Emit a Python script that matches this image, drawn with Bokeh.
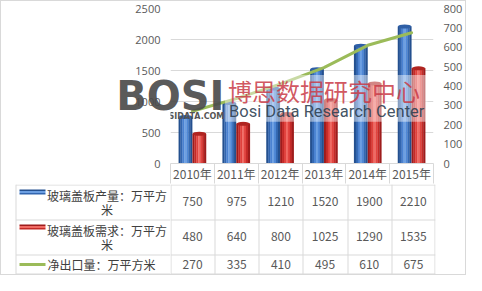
from bokeh.plotting import figure
from bokeh.models import (Range1d, LinearAxis, ColumnDataSource, Label,
                          BoxAnnotation, FixedTicker)
from bokeh.layouts import column, row
from bokeh.embed import file_html
from bokeh.resources import INLINE
from bokeh.core.properties import value
from bokeh.transform import dodge

# ---------------- data ----------------
years = ["2010年", "2011年", "2012年", "2013年", "2014年", "2015年"]
production = [750, 975, 1210, 1520, 1900, 2210]
demand = [480, 640, 800, 1025, 1290, 1535]
net_export = [270, 335, 410, 495, 610, 675]
series_names = ["玻璃盖板产量：万平方米", "玻璃盖板需求：万平方米", "净出口量：万平方米"]
left_ticks = [0, 500, 1000, 1500, 2000, 2500]
right_ticks = [0, 100, 200, 300, 400, 500, 600, 700, 800]

# ---------------- layout constants ----------------
W = 464
HA = 183
HB = 90
FL, FR, FT, FB = 169, 30, 7, 20
FW = W - FL - FR
NC = len(years)
cw = FW / float(NC)
TXT = "#595959"
GRID = "#d9d9d9"
BAR_W = 0.31
CJK = "Noto Sans CJK SC"

xc = [i + 0.5 for i in range(NC)]  # category centres
src = ColumnDataSource(dict(xc=xc, prod=production, dem=demand, net=net_export))

p = figure(x_range=Range1d(0, NC), y_range=Range1d(0, 2500), width=W, height=HA,
           min_border_left=FL, min_border_right=FR, min_border_top=FT, min_border_bottom=FB,
           x_axis_location=None, output_backend="svg", toolbar_location=None)
p.extra_y_ranges = {"r": Range1d(0, 800)}
p.xgrid.visible = False
p.outline_line_color = None
p.ygrid.grid_line_color = GRID
p.ygrid.ticker = FixedTicker(ticks=left_ticks)

def style_axis(ax, standoff):
    ax.axis_line_color = None
    ax.major_tick_line_color = None
    ax.minor_tick_line_color = None
    ax.major_tick_out = 0
    ax.minor_tick_out = 0
    ax.major_label_text_font = "Open Sans"
    ax.major_label_text_font_size = "11px"
    ax.major_label_text_color = TXT
    ax.major_label_standoff = standoff

p.yaxis.ticker = FixedTicker(ticks=left_ticks)
lax = p.yaxis[0]
style_axis(lax, 10)
# watermark logo, carried by the left axis so that it may overlap the tick labels
lax.axis_label = "\nBOSI"
lax.axis_label_orientation = "horizontal"
lax.axis_label_text_font = "DejaVu Sans"
lax.axis_label_text_font_style = "bold"
lax.axis_label_text_font_size = "40px"
lax.axis_label_text_line_height = 0.45
lax.axis_label_text_color = "#4a4a4a"
lax.axis_label_text_alpha = 0.92
lax.axis_label_standoff = -92

rax = LinearAxis(y_range_name="r", ticker=FixedTicker(ticks=right_ticks))
style_axis(rax, 10)
p.add_layout(rax, "right")

# header row of the data table = category axis
hdr = LinearAxis(ticker=FixedTicker(ticks=xc, minor_ticks=list(range(NC + 1))),
                 major_label_overrides={c: y for c, y in zip(xc, years)})
hdr.axis_line_color = GRID
hdr.major_tick_line_color = None
hdr.major_tick_out = 0
hdr.major_tick_in = 0
hdr.minor_tick_line_color = GRID
hdr.minor_tick_out = 20
hdr.minor_tick_in = 0
hdr.major_label_standoff = -19
hdr.major_label_text_font = CJK
hdr.major_label_text_font_size = "12px"
hdr.major_label_text_color = TXT
p.add_layout(hdr, "below")

blue_cols = ["#24508f", "#3266b0", "#4a82d2", "#6c9fe2", "#4f88d6", "#3469b3", "#24508f"]
red_cols = ["#9e1c1c", "#c42a27", "#e0413c", "#f06a63", "#e2443f", "#c52b28", "#9e1c1c"]

def cylinder(center, field, cols, cap):
    n = len(cols)
    sw = BAR_W / n
    for k, c in enumerate(cols):
        off = center - BAR_W / 2 + sw * (k + 0.5)
        p.vbar(x=dodge("xc", off), top=field, width=sw * 1.12,
               source=src, fill_color=c, line_color=None)
    p.ellipse(x=dodge("xc", center), y=field, width=BAR_W, height=4,
              height_units="screen", source=src, fill_color=cap, line_color=None)

cylinder(-0.158, "prod", blue_cols, "#2f5fa6")
cylinder(0.158, "dem", red_cols, "#b02420")

p.line(x="xc", y="net", source=src, y_range_name="r", line_width=3,
       line_color="#9bbb59", line_cap="round", line_join="round")

# ---------------- watermark ----------------
def sx(px):
    return (px - 178) / cw
def sy(py):
    return (172 - py) / 156.0 * 2500

p.add_layout(BoxAnnotation(left=sx(233), right=sx(437), bottom=sy(130), top=sy(83),
                           fill_color="white", fill_alpha=0.45, line_color=None))
p.add_layout(Label(x=sx(163), y=sy(125), text="BOSIDATA.COM", text_font="DejaVu Sans",
                   text_font_style="bold", text_font_size="8px", text_color="#555555",
                   text_baseline="middle", text_align="left"))
p.add_layout(Label(x=sx(236), y=sy(99), text="博思数据研究中心", text_font=CJK,
                   text_font_size="24px", text_color="#c93a46", text_alpha=0.85,
                   text_baseline="middle", text_align="left"))
p.add_layout(Label(x=sx(237), y=sy(120), text="Bosi Data Research Center",
                   text_font="Roboto", text_font_size="16.5px",
                   text_color="#2c3e50", text_alpha=0.9,
                   text_baseline="middle", text_align="left"))

# ---------------- data table: rows ----------------
font = value(CJK)
rows_y = [0.5, 35.5, 70.5, 89.5]

tl = figure(x_range=Range1d(0, FL), y_range=Range1d(HB, 0), width=FL, height=HB,
            min_border=0, x_axis_location=None, y_axis_location=None,
            output_backend="svg", toolbar_location=None)
tr = figure(x_range=Range1d(0, FW), y_range=Range1d(HB, 0), width=FW + FR, height=HB,
            min_border_left=0, min_border_right=FR, min_border_top=0, min_border_bottom=0,
            x_axis_location=None, y_axis_location=None,
            output_backend="svg", toolbar_location=None)
for f in (tl, tr):
    f.grid.visible = False
    f.outline_line_color = None

LX = 14.5
tl.segment(x0=[LX] * 4, y0=rows_y, x1=[FL] * 4, y1=rows_y, line_color=GRID, line_width=1)
tl.segment(x0=[LX], y0=[0], x1=[LX], y1=[rows_y[-1]], line_color=GRID, line_width=1)
tr.segment(x0=[0] * 4, y0=rows_y, x1=[FW] * 4, y1=rows_y, line_color=GRID, line_width=1)
vx = [0.5] + [round(i * cw) + 0.5 for i in range(1, NC)] + [FW - 0.5]
tr.segment(x0=vx, y0=[0] * len(vx), x1=vx, y1=[rows_y[-1]] * len(vx), line_color=GRID, line_width=1)

centers = [c * cw for c in xc]
for vals, yc in ((production, 17), (demand, 52), (net_export, 80)):
    tr.text(x=centers, y=[yc] * NC, text=[str(v) for v in vals], text_font=font,
            text_font_size="12px", text_color=TXT, text_align="center", text_baseline="middle")

LBL = "#404040"
tl.text(x=[105.5, 105.5], y=[11, 25], text=[series_names[0][:-1], series_names[0][-1]],
        text_font=font, text_font_size="12px", text_color=LBL,
        text_align="center", text_baseline="middle")
tl.text(x=[105.5, 105.5], y=[46, 60], text=[series_names[1][:-1], series_names[1][-1]],
        text_font=font, text_font_size="12px", text_color=LBL,
        text_align="center", text_baseline="middle")
tl.text(x=[46], y=[80], text=[series_names[2]], text_font=font, text_font_size="12px",
        text_color=LBL, text_align="left", text_baseline="middle")

def key(y0, cols):
    tl.quad(left=[18], right=[44], top=[y0], bottom=[y0 + 1.5], fill_color=cols[0], line_color=None)
    tl.quad(left=[18], right=[44], top=[y0 + 1.5], bottom=[y0 + 3.5], fill_color=cols[3], line_color=None)
    tl.quad(left=[18], right=[44], top=[y0 + 3.5], bottom=[y0 + 5], fill_color=cols[1], line_color=None)
key(5, blue_cols)
key(40, red_cols)
tl.segment(x0=[18], y0=[80], x1=[44], y1=[80], line_color="#9bbb59", line_width=3)

layout = column(p, row(tl, tr), styles={"border": "1px solid #d9d9d9"})
open("out.html", "w").write(file_html(layout, INLINE))
